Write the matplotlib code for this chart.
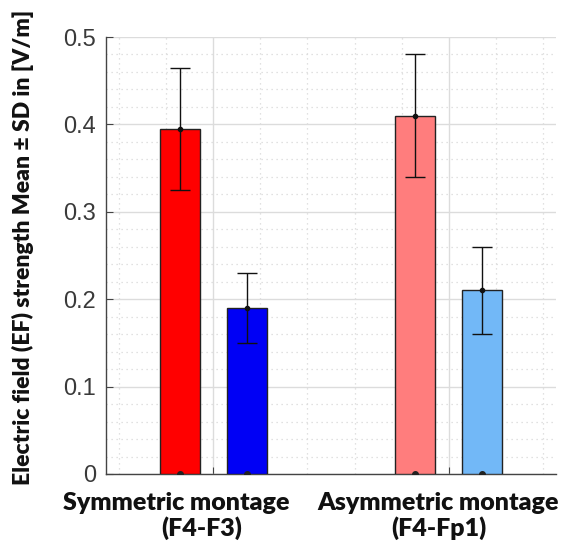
import matplotlib
matplotlib.use("Agg")
import matplotlib.pyplot as plt
import numpy as np
from matplotlib.ticker import MultipleLocator

groups = ["Symmetric montage\n(F4-F3)", "Asymmetric montage\n(F4-Fp1)"]
series1_mean = [0.395, 0.41]
series1_sd = [0.07, 0.07]
series2_mean = [0.19, 0.21]
series2_sd = [0.04, 0.05]
yticks = [0, 0.1, 0.2, 0.3, 0.4, 0.5]
ytick_labels = ["0", "0.1", "0.2", "0.3", "0.4", "0.5"]
ylabel = "Electric field (EF) strength Mean ± SD in [V/m]"

colors1 = ["#FF0000", "#FF7D7D"]
colors2 = ["#0000F5", "#72B8F7"]

fig = plt.figure(figsize=(5.63, 5.46), dpi=100)
ax = fig.add_axes([106/563, 1-474/546, 450/563, 437/546])

x = np.array([1, 2])
off = 0.1429
w = 0.17
ax.bar(x - off, series1_mean, width=w, color=colors1, edgecolor="#222222", linewidth=1.0, zorder=3)
ax.bar(x + off, series2_mean, width=w, color=colors2, edgecolor="#222222", linewidth=1.0, zorder=3)
ax.errorbar(x - off, series1_mean, yerr=series1_sd, fmt="o", color="#111111", ms=3, capsize=7, elinewidth=1.0, capthick=1.0, zorder=4)
ax.errorbar(x + off, series2_mean, yerr=series2_sd, fmt="o", color="#111111", ms=3, capsize=7, elinewidth=1.0, capthick=1.0, zorder=4)
ax.plot(np.concatenate([x - off, x + off]), [0, 0, 0, 0], marker="o", linestyle="none",
        color="#222222", ms=4, zorder=4, clip_on=True)

ax.set_xlim(0.5446, 2.4554)
ax.set_ylim(0, 0.5)
ax.set_yticks(yticks)
ax.set_yticklabels(ytick_labels, fontfamily="Liberation Sans", fontsize=17, color="#3a3a3a")
ax.set_xticks(x)
ax.set_xticklabels(["", ""])
ax.xaxis.set_minor_locator(MultipleLocator(0.2))
ax.yaxis.set_minor_locator(MultipleLocator(0.02))

ax.grid(which="major", color="#DCDCDC", linewidth=1.0, linestyle="-", zorder=0)
ax.grid(which="minor", color="#D8D8D8", linewidth=0.9, linestyle=(0, (1, 3)), zorder=0)
ax.set_axisbelow(True)

for s in ["top", "right"]:
    ax.spines[s].set_visible(False)
for s in ["left", "bottom"]:
    ax.spines[s].set_color("#444444")
    ax.spines[s].set_linewidth(1.0)

ax.tick_params(axis="both", which="major", direction="in", length=5, color="#444444")
ax.tick_params(axis="both", which="minor", length=0)
ax.tick_params(axis="y", pad=7)

# group labels
gx = [176, 438]
gx2 = [202, 439]
for g, px, px2 in zip(groups, gx, gx2):
    l1, l2 = g.split("\n")
    fig.text(px/563, 1-510/546, l1, ha="center", va="baseline", fontsize=18,
             fontweight="heavy", family="Lato", color="#111111")
    fig.text(px2/563, 1-536/546, l2, ha="center", va="baseline", fontsize=18,
             fontweight="heavy", family="Lato", color="#111111")

fig.text(23/563, 1-247/546, ylabel, rotation=90, ha="center", va="center",
         fontsize=16.5, fontweight="heavy", family="Lato", color="#111111")

fig.savefig("out.png", dpi=100)
